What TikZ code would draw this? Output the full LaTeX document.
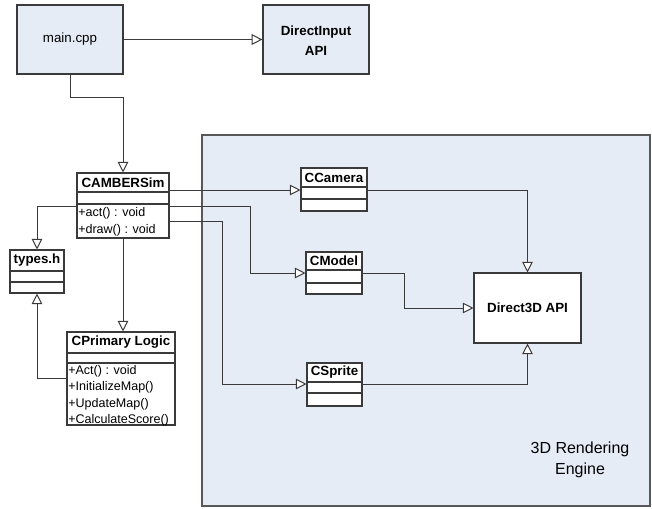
\documentclass[tikz,border=0pt]{standalone}
\usepackage{fontspec}
\setmainfont{Liberation Sans}
\usetikzlibrary{arrows.meta,fit,calc}
\definecolor{paleblue}{HTML}{E6ECF6}
\definecolor{edgegray}{HTML}{3A3A3A}
\tikzset{
  blockbox/.style={draw=edgegray, line width=0.9pt, fill=paleblue, inner sep=0pt},
  umlbox/.style={draw=edgegray, line width=0.8pt, fill=white, inner sep=0pt},
  clsname/.style={font=\bfseries\fontsize{10}{12}\selectfont, inner sep=0pt},
  opstext/.style={font=\fontsize{9.4}{12.5}\selectfont, inner sep=0pt, anchor=west},
  assoc/.style={draw=edgegray, line width=0.75pt, -{Triangle[length=8pt,width=8pt,fill=white]}},
  complin/.style={draw=edgegray, line width=0.8pt}
}
\begin{document}
\begin{tikzpicture}[x=0.75pt,y=-0.75pt]
\useasboundingbox (0,0) rectangle (652,508);
% engine region
\node[draw=edgegray!85, line width=0.8pt, fill=paleblue, inner sep=0pt, fit={(202,135) (650,506)}] (engine) {};
\node[font=\fontsize{12}{15.5}\selectfont, align=center] (enginelbl) at (580,460) {3D Rendering\\Engine};

% top boxes
\node[blockbox, fit={(17,5) (123,74)}] (main) {};
\node[font=\fontsize{10}{12}\selectfont] (mainlbl) at (main.center) {main.cpp};
\node[blockbox, fit={(263,5) (369,74)}] (dinput) {};
\node[clsname, align=center, font=\bfseries\fontsize{10}{15}\selectfont] (dinputlbl) at (316,41) {DirectInput\\API};

% CAMBERSim
\node[umlbox, fit={(77,173) (169,238)}] (cam) {};
\draw[complin] (77,192) -- (169,192) (77,204) -- (169,204);
\node[clsname] (camname) at (123,182.5) {CAMBERSim};
\node[opstext] (camop1) at (78,213.5) {+act() : void};
\node[opstext] (camop2) at (78,230) {+draw() : void};

% types.h
\node[umlbox, fit={(10,250) (64,293)}] (types) {};
\draw[complin] (10,271) -- (64,271) (10,282) -- (64,282);
\node[clsname] (typesname) at (37,260.5) {types.h};

% CPrimary Logic
\node[umlbox, fit={(67,332) (175,425)}] (cplog) {};
\draw[complin] (67,353) -- (175,353) (67,363) -- (175,363);
\node[clsname] (cplogname) at (121,342.5) {CPrimary Logic};
\node[opstext] (cpop1) at (68,371) {+Act() : void};
\node[opstext] (cpop2) at (68,387.5) {+InitializeMap()};
\node[opstext] (cpop3) at (68,404) {+UpdateMap()};
\node[opstext] (cpop4) at (68,420) {+CalculateScore()};

% CCamera
\node[umlbox, fit={(301,168) (367,211)}] (ccam) {};
\draw[complin] (301,187) -- (367,187) (301,199) -- (367,199);
\node[clsname] (ccamname) at (334,177.5) {CCamera};

% CModel
\node[umlbox, fit={(306,252) (362,294)}] (cmodel) {};
\draw[complin] (306,270) -- (362,270) (306,283) -- (362,283);
\node[clsname] (cmodelname) at (334,261) {CModel};

% CSprite
\node[umlbox, fit={(307,363) (362,406)}] (csprite) {};
\draw[complin] (307,382) -- (362,382) (307,393) -- (362,393);
\node[clsname] (cspritename) at (334.5,372.5) {CSprite};

% Direct3D
\node[umlbox, fit={(474,273) (581,343)}] (d3d) {};
\node[clsname] (d3dname) at (d3d.center) {Direct3D API};

% connectors
\draw[assoc] (main) -- (dinput);
\draw[assoc] (main.south) -- ++(0,23) -| (cam.north);
\draw[assoc] (cam.west |- 0,206) -| (types.north);
\draw[assoc] (cam.south) -- (cam.south |- cplog.north);
\draw[assoc] (cplog.west |- 0,378) -| (types.south);
\draw[assoc] (cam.east |- 0,190) -- (ccam.west |- 0,190);
\draw[assoc] (cam.east |- 0,206) -- (250,206) |- (cmodel.west |- 0,273);
\draw[assoc] (cam.east |- 0,221) -- (222,221) |- (csprite.west |- 0,384);
\draw[assoc] (ccam.east |- 0,190) -| (d3d.north);
\draw[assoc] (cmodel.east |- 0,273) -- (404,273) |- (d3d.west);
\draw[assoc] (csprite.east |- 0,384) -| (d3d.south);
\end{tikzpicture}
\end{document}
